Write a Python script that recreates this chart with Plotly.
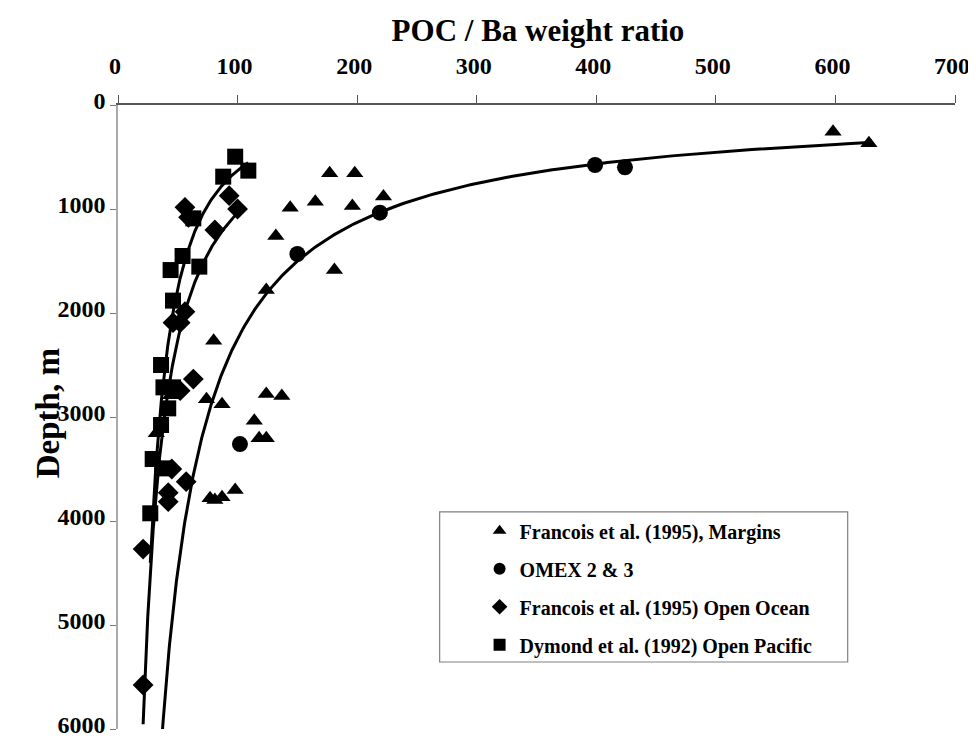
import numpy as np
import plotly.graph_objects as go

# ---- data (POC/Ba ratio, depth in m) ----
margins_ratio = [598, 628, 177, 198, 222, 165, 196, 144, 132, 181, 124, 80, 124, 137,
                 74, 87, 44, 114, 32, 118, 124, 98, 77, 81, 87]
margins_depth = [257, 368, 657, 657, 881, 930, 971, 987, 1260, 1587, 1779, 2266, 2779, 2798,
                 2830, 2878, 2790, 3035, 3157, 3205, 3205, 3702, 3782, 3798, 3772]

omex_ratio = [399, 424, 219, 150, 102]
omex_depth = [577, 599, 1035, 1433, 3260]

ocean_ratio = [93, 100, 56, 59, 81, 56, 46, 52, 63, 52, 45, 57, 42, 42, 21, 21]
ocean_depth = [872, 1000, 984, 1080, 1202, 1987, 2093, 2093, 2635, 2747, 3500, 3622,
               3728, 3814, 4270, 5577]

pacific_ratio = [98, 109, 88, 63, 54, 68, 44, 46, 36, 38, 46, 42, 36, 29, 37, 27]
pacific_depth = [497, 631, 689, 1090, 1452, 1554, 1587, 1881, 2500, 2715, 2715, 2917,
                 3077, 3404, 3494, 3926]

x_ticks = [0, 100, 200, 300, 400, 500, 600, 700]
y_ticks = [0, 1000, 2000, 3000, 4000, 5000, 6000]

FONT = "Liberation Serif, Times New Roman, serif"


def power_fit(xs, ys):
    """Least-squares power-law trendline y = a * x^b (as a spreadsheet does)."""
    lx, ly = np.log(np.asarray(xs, float)), np.log(np.asarray(ys, float))
    b, la = np.polyfit(lx, ly, 1)
    xx = np.geomspace(min(xs), max(xs), 300)
    return xx, np.exp(la) * xx ** b


fig = go.Figure()

# trendlines
for xs, ys in [(margins_ratio + omex_ratio, margins_depth + omex_depth),
               (ocean_ratio, ocean_depth),
               (pacific_ratio, pacific_depth)]:
    cx, cy = power_fit(xs, ys)
    fig.add_trace(go.Scatter(x=cx, y=cy, mode="lines", line=dict(color="black", width=3),
                             showlegend=False, hoverinfo="skip"))

series = [
    ("Francois et al. (1995), Margins", margins_ratio, margins_depth, "triangle-up", 15),
    ("OMEX 2 & 3", omex_ratio, omex_depth, "circle", 16),
    ("Francois et al. (1995) Open Ocean", ocean_ratio, ocean_depth, "diamond", 16),
    ("Dymond et al. (1992) Open Pacific", pacific_ratio, pacific_depth, "square", 16),
]
for i, (name, xs, ys, sym, sz) in enumerate(series):
    fig.add_trace(go.Scatter(x=xs, y=ys, mode="markers", name=name, legendgroup=f"g{i}",
                             marker=dict(symbol=sym, size=sz, color="black",
                                         line=dict(width=0))))

# legend box
fig.add_shape(type="rect", xref="paper", yref="paper", x0=0.3843, x1=0.8718,
              y0=0.1074, y1=0.3478, line=dict(color="#808080", width=1.2),
              fillcolor="white", layer="below")

# y-axis title placed as a rotated annotation
fig.add_annotation(text="Depth, m", xref="paper", yref="paper", x=-0.0836, y=0.506,
                   xanchor="center", yanchor="middle", textangle=-90, showarrow=False,
                   font=dict(family=FONT, size=33, weight="bold", color="black"))

fig.update_layout(
    width=968, height=732,
    margin=dict(l=110, r=21, t=97, b=11, autoexpand=False),
    paper_bgcolor="white", plot_bgcolor="white",
    font=dict(family=FONT, color="black", size=18, weight="bold"),
    title=dict(text="POC / Ba weight ratio", x=0.5475, xanchor="center",
               y=0.970, yanchor="middle", font=dict(family=FONT, size=31, weight="bold")),
    showlegend=True,
    legend=dict(x=0.432, xanchor="left", y=0.349, yanchor="top",
                bgcolor="rgba(0,0,0,0)", borderwidth=0,
                font=dict(family=FONT, size=20, weight="bold", color="black"),
                tracegroupgap=9, itemsizing="constant"),
    xaxis=dict(range=[0, 700], side="top", tickvals=x_ticks, ticks="outside", ticklen=8,
               tickcolor="#555", showline=True, linecolor="#555", linewidth=1.5,
               showgrid=False, zeroline=False, automargin=False, ticklabelstandoff=12,
               ticklabeloverflow="allow", ticklabelshift=-3,
               tickfont=dict(family=FONT, size=24, weight="bold")),
    yaxis=dict(range=[6000, 0], tickvals=y_ticks, ticks="outside", ticklen=6,
               tickcolor="#777", showline=True, linecolor="#aaa", linewidth=1.5,
               showgrid=False, zeroline=False, automargin=False,
               ticklabeloverflow="allow", ticklabelshift=4,
               tickfont=dict(family=FONT, size=24, weight="bold")),
)

fig.write_html("out.html")
